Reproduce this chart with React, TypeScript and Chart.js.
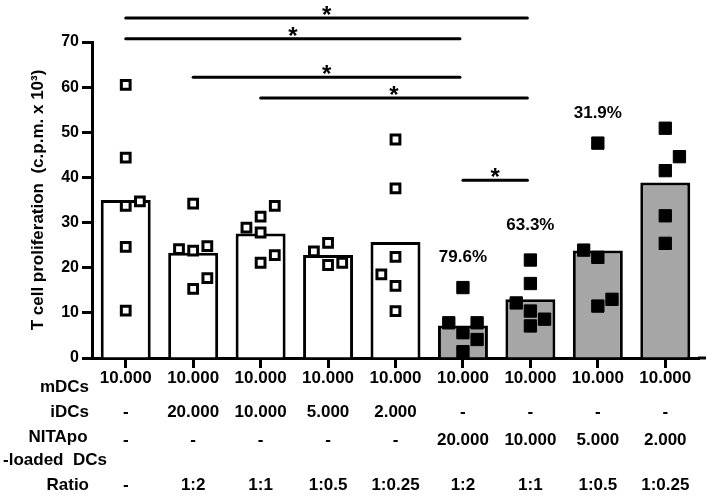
import React, { useEffect, useRef } from 'react';
import { Chart, registerables } from 'chart.js';

Chart.register(...registerables);

// ---------- data ----------
const categories = ['G1', 'G2', 'G3', 'G4', 'G5', 'G6', 'G7', 'G8', 'G9'];
const barMeans = [35.0, 23.3, 27.6, 22.8, 25.7, 7.2, 13.0, 23.8, 38.9];
const loadedGroup = [false, false, false, false, false, true, true, true, true];

// individual values per group, with their column (-1 left, 0 centre, +1 right)
const g1Values = [60.5, 44.4, 34.7, 33.7, 24.6, 10.5];
const g1Cols = [0, 0, 1, 0, 0, 0];
const g2Values = [34.2, 24.1, 23.8, 24.8, 15.3, 17.7];
const g2Cols = [0, -1, 0, 1, 0, 1];
const g3Values = [28.9, 31.3, 33.7, 27.8, 21.1, 22.8];
const g3Cols = [-1, 0, 1, 0, 0, 1];
const g4Values = [23.6, 25.5, 20.6, 21.1];
const g4Cols = [-1, 0, 0, 1];
const g5Values = [48.4, 37.6, 22.4, 18.5, 16.0, 10.4];
const g5Cols = [0, 0, 0, -1, 0, 0];
const g6Values = [15.6, 7.8, 7.8, 5.6, 4.1, 1.4];
const g6Cols = [0, -1, 1, 0, 1, 0];
const g7Values = [21.7, 16.5, 12.2, 10.4, 8.6, 7.1];
const g7Cols = [0, 0, -1, 0, 1, 0];
const g8Values = [47.6, 23.9, 22.3, 11.5, 13.0];
const g8Cols = [0, -1, 0, 0, 1];
const g9Values = [50.9, 44.6, 41.5, 31.5, 25.4];
const g9Cols = [0, 1, 0, 0, 0];

const groupValues = [g1Values, g2Values, g3Values, g4Values, g5Values, g6Values, g7Values, g8Values, g9Values];
const groupCols = [g1Cols, g2Cols, g3Cols, g4Cols, g5Cols, g6Cols, g7Cols, g8Cols, g9Cols];

const yTicks = [0, 10, 20, 30, 40, 50, 60, 70];

// table rows
const rowMDCs = ['10.000', '10.000', '10.000', '10.000', '10.000', '10.000', '10.000', '10.000', '10.000'];
const rowIDCs = ['-', '20.000', '10.000', '5.000', '2.000', '-', '-', '-', '-'];
const rowNITApo = ['-', '-', '-', '-', '-', '20.000', '10.000', '5.000', '2.000'];
const rowRatio = ['-', '1:2', '1:1', '1:0.5', '1:0.25', '1:2', '1:1', '1:0.5', '1:0.25'];

// percentage annotations
const pctGroup = [5, 6, 7];
const pctText = ['79.6%', '63.3%', '31.9%'];
const pctAt = [22.3, 29.5, 54.3];

// significance brackets
const sigFrom = [0, 0, 1, 2, 5];
const sigTo = [6, 5, 5, 6, 6];
const sigAt = [75.3, 70.7, 62.2, 57.6, 39.4];

const FONT = 'Liberation Sans, Arial, Helvetica, sans-serif';
const JITTER = 0.21;

export default function App() {
  const ref = useRef<HTMLCanvasElement | null>(null);

  useEffect(() => {
    const canvas = ref.current;
    if (!canvas) return;

    const openPts: { x: number; y: number }[] = [];
    const filledPts: { x: number; y: number }[] = [];
    groupValues.forEach((vals, gi) => {
      vals.forEach((v, k) => {
        const p = { x: gi + groupCols[gi][k] * JITTER, y: v };
        (loadedGroup[gi] ? filledPts : openPts).push(p);
      });
    });

    const overlay = {
      id: 'overlay',
      afterDraw(chart: any) {
        const ctx = chart.ctx;
        const xs = chart.scales.x;
        const ys = chart.scales.y;
        const area = chart.chartArea;
        ctx.save();
        ctx.fillStyle = '#000';
        ctx.strokeStyle = '#000';

        // axis extension to the right
        ctx.lineWidth = 3;
        ctx.beginPath();
        ctx.moveTo(area.right - 1, area.bottom);
        ctx.lineTo(706, area.bottom);
        ctx.stroke();

        // significance brackets
        ctx.lineWidth = 3;
        ctx.lineCap = 'round';
        for (let i = 0; i < sigAt.length; i++) {
          const x1 = xs.getPixelForValue(sigFrom[i]);
          const x2 = xs.getPixelForValue(sigTo[i]) - 3;
          const y = ys.getPixelForValue(sigAt[i]);
          ctx.beginPath();
          ctx.moveTo(x1, y);
          ctx.lineTo(x2, y);
          ctx.stroke();
          ctx.font = `bold 24px ${FONT}`;
          ctx.textAlign = 'center';
          ctx.textBaseline = 'alphabetic';
          ctx.fillText('*', (x1 + x2) / 2, y + 5);
        }

        // percentages
        ctx.font = `bold 17px ${FONT}`;
        ctx.textAlign = 'center';
        ctx.textBaseline = 'middle';
        for (let i = 0; i < pctText.length; i++) {
          ctx.fillText(pctText[i], xs.getPixelForValue(pctGroup[i]), ys.getPixelForValue(pctAt[i]));
        }

        // table
        const rows: [string[], number][] = [
          [rowMDCs, 378],
          [rowIDCs, 412],
          [rowNITApo, 440],
          [rowRatio, 485],
        ];
        ctx.font = `bold 17px ${FONT}`;
        rows.forEach(([vals, y]) => {
          vals.forEach((t, i) => {
            ctx.fillText(t, xs.getPixelForValue(i), y);
          });
        });
        ctx.textAlign = 'right';
        ctx.fillText('mDCs', 89, 387);
        ctx.fillText('iDCs', 89, 412);
        ctx.fillText('Ratio', 89, 485);
        ctx.textAlign = 'center';
        ctx.fillText('NITApo', 58, 437);
        ctx.fillText('-loaded  DCs', 55, 460);
        ctx.restore();
      },
    };

    const chart = new Chart(canvas, {
      type: 'bar',
      data: {
        labels: categories,
        datasets: [
          {
            type: 'bar',
            data: barMeans,
            backgroundColor: loadedGroup.map((l) => (l ? '#a6a6a6' : '#ffffff')),
            borderColor: '#000',
            borderWidth: 3,
            barPercentage: 0.741,
            categoryPercentage: 1,
            grouped: false,
            order: 2,
            xAxisID: 'x',
            yAxisID: 'y',
          } as any,
          {
            type: 'scatter',
            data: openPts,
            xAxisID: 'xs',
            yAxisID: 'y',
            pointStyle: 'rect',
            pointRadius: 6.2,
            backgroundColor: '#ffffff',
            borderColor: '#000',
            borderWidth: 3,
            showLine: false,
            order: 1,
          } as any,
          {
            type: 'scatter',
            data: filledPts,
            xAxisID: 'xs',
            yAxisID: 'y',
            pointStyle: 'rect',
            pointRadius: 8.7,
            backgroundColor: '#000',
            borderColor: '#000',
            borderWidth: 1,
            showLine: false,
            order: 0,
          } as any,
        ],
      },
      options: {
        responsive: false,
        animation: false,
        events: [],
        layout: { padding: { top: 42, right: 13, left: 0, bottom: 0 } },
        plugins: {
          legend: { display: false },
          tooltip: { enabled: false },
        },
        scales: {
          x: {
            type: 'category',
            offset: true,
            grid: {
              display: true,
              offset: false,
              drawOnChartArea: false,
              drawTicks: true,
              tickLength: 10,
              tickWidth: 3,
              tickColor: '#000',
            },
            border: { display: true, width: 3, color: '#000' },
            ticks: { display: false },
            afterFit: (s: any) => {
              s.height = 138;
            },
          },
          xs: {
            type: 'linear',
            display: false,
            offset: false,
            min: -0.5,
            max: 8.5,
          },
          y: {
            type: 'linear',
            min: 0,
            max: 70,
            afterBuildTicks: (s: any) => {
              s.ticks = yTicks.map((v) => ({ value: v }));
            },
            ticks: {
              color: '#000',
              padding: 3,
              font: { family: FONT, size: 16, weight: 'bold' },
            },
            grid: {
              drawOnChartArea: false,
              drawTicks: true,
              tickLength: 10,
              tickWidth: 3,
              tickColor: '#000',
            },
            border: { display: true, width: 3, color: '#000' },
            title: {
              display: true,
              text: 'T cell proliferation  (c.p.m. x 10\u00B3)',
              color: '#000',
              font: { family: FONT, size: 17, weight: 'bold' },
              padding: { top: 28, bottom: 0 },
            },
            afterFit: (s: any) => {
              s.width = 92;
            },
          },
        },
      },
      plugins: [overlay],
    });

    return () => chart.destroy();
  }, []);

  return (
    <div style={{ position: 'fixed', left: 0, top: 0, width: 712, height: 496, background: '#fff' }}>
      <canvas ref={ref} width={712} height={496} style={{ width: 712, height: 496, display: 'block' }} />
    </div>
  );
}
